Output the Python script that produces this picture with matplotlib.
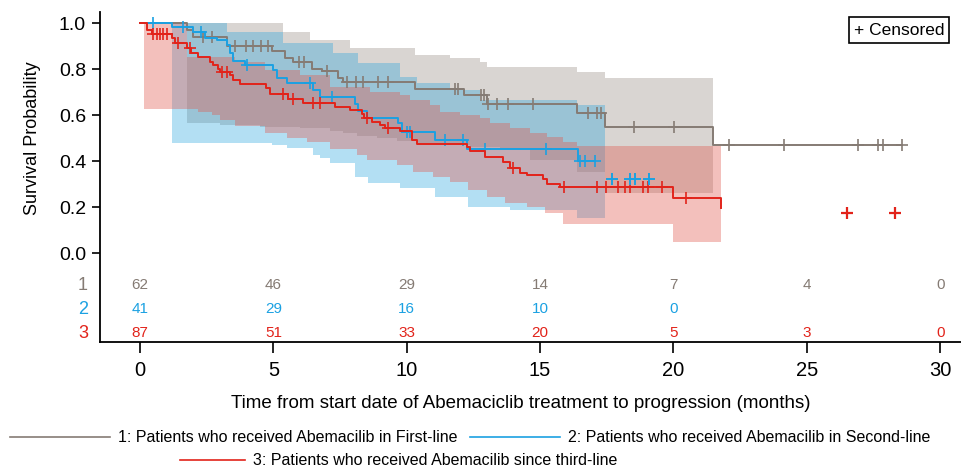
import numpy as np
import matplotlib.pyplot as plt
from matplotlib.lines import Line2D

plt.rcParams['font.family'] = ['Liberation Sans', 'DejaVu Sans']

# colours
c1 = '#857b74'   # first-line (grey)
c2 = '#1ba1e2'   # second-line (blue)
c3 = '#e2231a'   # third-line (red)

# ---- group 1: first-line ----
g1_drop_t = [1.76, 1.99, 3.26, 4.95, 5.44, 5.74, 6.45, 6.83, 7.43, 7.61, 10.31, 12.15, 13.0, 16.39, 17.44, 21.49]
g1_drop_s = [0.97, 0.94, 0.90, 0.88, 0.85, 0.83, 0.80, 0.79, 0.76, 0.745, 0.715, 0.687, 0.65, 0.607, 0.547, 0.468]
g1_end = 28.57
g1_cens = [2.36, 2.70, 3.56, 3.97, 4.24, 4.54, 4.80, 5.96, 6.15, 7.01, 7.76, 8.10, 8.36, 8.92, 9.30,
           11.81, 11.92, 12.8, 12.9, 13.05, 13.39, 13.80, 14.74, 16.80, 17.14, 17.29, 18.52, 20.02,
           22.08, 24.15, 26.92, 27.67, 27.86, 28.57]
g1_up_t = [1.76, 5.36, 6.38, 7.88, 10.31, 11.63, 12.75, 13.01, 16.39, 17.44]
g1_up = [1.0, 0.961, 0.926, 0.891, 0.861, 0.848, 0.830, 0.809, 0.787, 0.761]
g1_lo_t = [1.76, 3.00, 4.50, 6.00, 7.13, 7.61, 8.14, 8.89, 9.64, 10.39, 11.25, 12.38, 13.50, 14.63, 16.39, 17.44]
g1_lo = [0.565, 0.557, 0.548, 0.543, 0.530, 0.522, 0.509, 0.500, 0.487, 0.478, 0.470, 0.461, 0.452, 0.404, 0.352, 0.261]
g1_band_end = 21.49

# ---- group 2: second-line ----
g2_drop_t = [1.20, 1.99, 2.44, 2.89, 3.26, 3.38, 3.49, 3.94, 4.99, 5.14, 5.51, 6.49, 6.75, 8.06, 8.18,
             8.51, 9.68, 9.83, 11.06, 12.26, 16.43]
g2_drop_s = [0.983, 0.96, 0.935, 0.926, 0.905, 0.87, 0.835, 0.817, 0.796, 0.762, 0.74, 0.709, 0.68, 0.65,
             0.617, 0.587, 0.565, 0.526, 0.49, 0.452, 0.40]
g2_end = 17.06
g2_cens = [0.49, 1.61, 2.29, 4.01, 6.37, 7.20, 10.01, 10.12, 11.44, 12.11, 12.94, 15.22, 16.5, 16.69, 17.06]
g2_extra_t = [17.70, 18.37, 18.56, 19.09]
g2_extra_s = [0.32, 0.32, 0.32, 0.32]
g2_up_t = [1.20, 3.26, 5.36, 7.24, 8.18, 9.75, 10.39, 11.63, 12.75, 16.39]
g2_up = [1.0, 0.961, 0.913, 0.870, 0.826, 0.765, 0.739, 0.709, 0.665, 0.643]
g2_lo_t = [1.20, 4.95, 5.51, 6.49, 6.75, 7.13, 8.06, 8.55, 9.75, 11.06, 12.30, 13.88, 16.39]
g2_lo = [0.478, 0.470, 0.457, 0.426, 0.413, 0.391, 0.330, 0.304, 0.283, 0.243, 0.200, 0.187, 0.152]
g2_band_end = 17.44

# ---- group 3: third-line and later ----
g3_drop_t = [0.26, 0.45, 1.20, 1.31, 1.76, 1.91, 2.18, 2.63, 2.74, 2.93, 3.0, 3.38, 3.49, 3.75, 4.73,
             4.88, 5.55, 6.11, 7.31, 7.88, 8.33, 8.40, 8.70, 9.0, 9.19, 9.75, 10.2, 10.39, 12.26, 12.38,
             12.94, 13.61, 13.88, 14.25, 14.51, 15.11, 15.26, 15.75, 19.99, 21.79]
g3_drop_s = [0.97, 0.952, 0.935, 0.913, 0.89, 0.87, 0.852, 0.83, 0.817, 0.80, 0.787, 0.774, 0.752, 0.735,
             0.717, 0.69, 0.67, 0.652, 0.635, 0.622, 0.604, 0.587, 0.57, 0.557, 0.543, 0.53, 0.49, 0.474,
             0.461, 0.443, 0.417, 0.396, 0.37, 0.348, 0.339, 0.322, 0.30, 0.287, 0.239, 0.196]
g3_end = 21.79
g3_cens = [0.49, 0.64, 0.75, 0.86, 1.01, 1.43, 1.88, 3.08, 3.26, 5.36, 5.74, 6.49, 6.75, 8.51, 9.30,
           13.99, 15.9, 17.14, 17.48, 17.92, 18.19, 18.38, 18.86, 19.05, 19.58, 20.48]
g3_extra_t = [26.5, 28.3]
g3_extra_s = [0.174, 0.174]
g3_up_t = [0.15, 1.76, 3.56, 4.69, 6.00, 7.13, 8.63, 9.75, 10.13, 10.88, 11.25, 12.0, 12.75, 13.13,
           13.88, 14.63, 15.26, 15.86, 16.39]
g3_up = [1.0, 0.852, 0.830, 0.796, 0.774, 0.722, 0.700, 0.687, 0.665, 0.643, 0.613, 0.600, 0.587,
         0.565, 0.543, 0.522, 0.504, 0.483, 0.465]
g3_lo_t = [0.15, 2.18, 2.70, 3.00, 3.56, 4.69, 5.51, 6.26, 7.13, 8.14, 8.51, 9.64, 10.24, 10.99, 11.63,
           12.30, 13.01, 13.69, 14.51, 15.19, 15.86, 19.99]
g3_lo = [0.626, 0.613, 0.600, 0.578, 0.552, 0.522, 0.500, 0.483, 0.452, 0.426, 0.404, 0.383, 0.352,
         0.330, 0.309, 0.274, 0.243, 0.217, 0.200, 0.174, 0.126, 0.048]
g3_band_end = 21.79

# numbers at risk
risk_t = [0, 5, 10, 15, 20, 25, 30]
risk1 = [62, 46, 29, 14, 7, 4, 0]
risk2 = [41, 29, 16, 10, 0]
risk3 = [87, 51, 33, 20, 5, 3, 0]

labels = ['1: Patients who received Abemacilib in First-line',
          '2: Patients who received Abemacilib in Second-line',
          '3: Patients who received Abemacilib since third-line']


def step_at(starts, vals, t):
    idx = np.searchsorted(starts, t, side='right') - 1
    return np.asarray(vals)[np.clip(idx, 0, len(vals) - 1)]


def draw_band(ax, up_t, up, lo_t, lo, end, color, alpha):
    grid = np.unique(np.concatenate([up_t, lo_t, [end]]))
    u = step_at(up_t, up, grid)
    l = step_at(lo_t, lo, grid)
    ax.fill_between(grid, l, u, step='post', color=color, alpha=alpha, lw=0)


def draw_km(ax, drop_t, drop_s, end, cens, color):
    t = np.array([0.0] + drop_t)
    s = np.array([1.0] + drop_s)
    if end > t[-1]:
        t = np.append(t, end)
        s = np.append(s, s[-1])
    ax.plot(t, s, drawstyle='steps-post', color=color, lw=1.4)
    cs = step_at(np.array([0.0] + drop_t), [1.0] + drop_s, np.array(cens))
    ax.plot(cens, cs, ls='none', marker='+', ms=8, mew=1.2, color=color)


fig = plt.figure(figsize=(9.62, 4.69), dpi=100)
ax = fig.add_axes([100 / 962, 127 / 469, 862 / 962, 330 / 469])

draw_band(ax, g1_up_t, g1_up, g1_lo_t, g1_lo, g1_band_end, '#a09890', 0.40)
draw_band(ax, g2_up_t, g2_up, g2_lo_t, g2_lo, g2_band_end, '#1ba0dc', 0.33)
draw_band(ax, g3_up_t, g3_up, g3_lo_t, g3_lo, g3_band_end, '#e05a50', 0.38)

draw_km(ax, g1_drop_t, g1_drop_s, g1_end, g1_cens, c1)
draw_km(ax, g2_drop_t, g2_drop_s, g2_end, g2_cens, c2)
draw_km(ax, g3_drop_t, g3_drop_s, g3_end, g3_cens, c3)
ax.plot(g2_extra_t, g2_extra_s, ls='none', marker='+', ms=9, mew=1.4, color=c2)
ax.plot(g3_extra_t, g3_extra_s, ls='none', marker='+', ms=9, mew=1.6, color=c3)

# risk table inside the axes, below the curves
for row, (vals, col, y) in enumerate([(risk1, c1, -0.139), (risk2, c2, -0.243), (risk3, c3, -0.348)]):
    for t, v in zip(risk_t, vals):
        ax.text(t, y, str(v), ha='center', va='center', fontsize=11, color=col)
    fig.text(83 / 962, 1 - (285 + 24 * row) / 469, str(row + 1), ha='center', va='center',
             fontsize=13, color=col)

ax.set_xlim(-1.5, 30.82)
ax.set_ylim(-0.387, 1.048)
ax.set_yticks([0.0, 0.2, 0.4, 0.6, 0.8, 1.0])
ax.set_yticklabels(['0.0', '0.2', '0.4', '0.6', '0.8', '1.0'])
ax.set_xticks(risk_t)
ax.tick_params(axis='y', length=6, width=1.2, labelsize=14, pad=4)
ax.tick_params(axis='x', length=8, width=1.2, labelsize=14.5, pad=6)
for side in ['top', 'right']:
    ax.spines[side].set_visible(False)
for side in ['left', 'bottom']:
    ax.spines[side].set_linewidth(1.3)

fig.text(33 / 962, 1 - 138 / 469, 'Survival Probability', rotation=90, ha='center', va='center', fontsize=13)
fig.text(521 / 962, 1 - 404 / 469, 'Time from start date of Abemaciclib treatment to progression (months)',
         ha='center', va='center', fontsize=13.5)

ax.text(899 / 962, 1 - 30 / 469, '+ Censored', transform=fig.transFigure, ha='center', va='center',
        fontsize=12.5, bbox=dict(boxstyle='square,pad=0.3', fc='white', ec='black', lw=1.2))

# legend drawn by hand, two rows
leg = [(10, 110, 118, 437, c1, labels[0]),
       (470, 560, 568, 437, c2, labels[1]),
       (180, 245, 253, 460, c3, labels[2])]
for x0, x1, xt, y, col, lab in leg:
    fig.add_artist(Line2D([x0 / 962, x1 / 962], [1 - y / 469, 1 - y / 469], color=col, lw=1.2,
                          transform=fig.transFigure))
    fig.text(xt / 962, 1 - y / 469, lab, ha='left', va='center', fontsize=11.5)

fig.savefig('out.png', dpi=100)
